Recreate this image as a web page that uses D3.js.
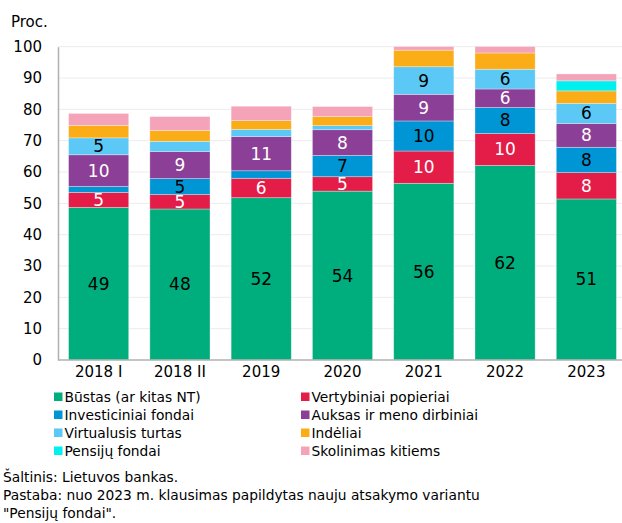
<!DOCTYPE html>
<html lang="lt">
<head>
  <meta charset="UTF-8">
  <title>Investavimo kryptys</title>
  <script src="https://d3js.org/d3.v7.min.js"></script>
  <style>
    html, body {
      margin: 0;
      padding: 0;
      background: #fff;
      font-family: "DejaVu Sans", Verdana, sans-serif;
    }
    svg { display: block; }
  </style>
</head>
<body>
  <svg width="622" height="523"></svg>

  <script>
    // duomenys
    const years = ["2018 I", "2018 II", "2019", "2020", "2021", "2022", "2023"];
    const busta = [48.7, 48.2, 51.8, 53.9, 56.4, 62.1, 51.4];
    const vertybiniai = [4.8, 4.6, 6.2, 4.6, 10.3, 10.2, 8.4];
    const investiciniai = [1.9, 5.1, 2.4, 6.8, 9.6, 8.3, 8.1];
    const auksas = [10.1, 8.6, 10.9, 8.2, 8.5, 5.9, 7.6];
    const virtualus = [5.4, 3.3, 2.3, 1.3, 8.8, 6.3, 6.4];
    const indeliai = [4.0, 3.5, 2.8, 2.9, 5.3, 5.2, 4.0];
    const pensiju = [0, 0, 0, 0, 0, 0, 3.2];
    const skolinimas = [3.8, 4.4, 4.6, 3.2, 2.5, 3.0, 2.2];
    const yTicks = [0, 10, 20, 30, 40, 50, 60, 70, 80, 90, 100];

    const series = [
      { name: "Būstas (ar kitas NT)", values: busta, color: "#00ae7d", label: "#000" },
      { name: "Vertybiniai popieriai", values: vertybiniai, color: "#e31d48", label: "#fff" },
      { name: "Investiciniai fondai", values: investiciniai, color: "#0096d6", label: "#000" },
      { name: "Auksas ir meno dirbiniai", values: auksas, color: "#8b3f96", label: "#fff" },
      { name: "Virtualusis turtas", values: virtualus, color: "#5bc8f5", label: "#000" },
      { name: "Indėliai", values: indeliai, color: "#fbad18", label: null },
      { name: "Pensijų fondai", values: pensiju, color: "#00f0f0", label: null },
      { name: "Skolinimas kitiems", values: skolinimas, color: "#f4a3b8", label: null }
    ];

    const svg = d3.select("svg");

    const x = d3.scaleBand().domain(years).range([58, 627]).paddingInner(0.26).paddingOuter(0.13);
    const y = d3.scaleLinear().domain([0, 100]).range([360, 46.7]);

    // tinklelis
    svg.append("g")
      .selectAll("line")
      .data(yTicks.filter(d => d > 0))
      .enter().append("line")
      .attr("x1", 58).attr("x2", 622)
      .attr("y1", d => y(d)).attr("y2", d => y(d))
      .attr("stroke", "#ececec")
      .attr("stroke-width", 1);

    const yAxis = svg.append("g")
      .attr("transform", "translate(58,0)")
      .call(d3.axisLeft(y).tickValues(yTicks).tickSize(0).tickPadding(16));
    yAxis.select(".domain").attr("stroke", "#b0b0b0").attr("stroke-width", 1.5);
    yAxis.selectAll("text").attr("font-size", 15).attr("font-family", "DejaVu Sans, Verdana, sans-serif").attr("fill", "#000");

    svg.append("defs").append("clipPath").attr("id", "plot-clip")
      .append("rect").attr("x", 58).attr("y", y(100)).attr("width", 570).attr("height", y(0) - y(100));

    const stackData = years.map((yr, i) => {
      const row = { year: yr };
      series.forEach(s => row[s.name] = s.values[i]);
      return row;
    });
    const stacked = d3.stack().keys(series.map(s => s.name))(stackData);

    const bars = svg.append("g").attr("clip-path", "url(#plot-clip)");
    stacked.forEach((layer, k) => {
      bars.append("g")
        .selectAll("rect")
        .data(layer.filter(d => d[1] - d[0] > 0))
        .enter().append("rect")
        .attr("x", d => x(d.data.year))
        .attr("width", x.bandwidth())
        .attr("y", d => y(d[1]))
        .attr("height", d => y(d[0]) - y(d[1]))
        .attr("fill", series[k].color)
        .attr("stroke", "#fff")
        .attr("stroke-opacity", 0.45)
        .attr("stroke-width", 0.7);
    });

    // reikšmių etiketės
    const labels = svg.append("g");
    stacked.forEach((layer, k) => {
      if (!series[k].label) return;
      labels.selectAll(null)
        .data(layer.filter(d => Math.round(d[1] - d[0]) >= 5))
        .enter().append("text")
        .attr("x", d => x(d.data.year) + x.bandwidth() / 2)
        .attr("y", d => y((d[0] + d[1]) / 2))
        .attr("text-anchor", "middle")
        .attr("dominant-baseline", "central")
        .attr("font-size", 17)
        .attr("fill", series[k].label)
        .text(d => Math.round(d[1] - d[0]));
    });

    // x ašis
    const xAxis = svg.append("g")
      .attr("transform", "translate(0,360)")
      .call(d3.axisBottom(x).tickSize(0).tickPadding(6));
    xAxis.select(".domain").remove();
    xAxis.selectAll("text").attr("font-size", 15).attr("font-family", "DejaVu Sans, Verdana, sans-serif").attr("fill", "#000");
    svg.append("line")
      .attr("x1", 58).attr("x2", 622).attr("y1", 360).attr("y2", 360)
      .attr("stroke", "#b0b0b0").attr("stroke-width", 1.5);

    svg.append("text")
      .attr("x", 11).attr("y", 27)
      .attr("font-size", 15)
      .text("Proc.");

    // legenda
    const legend = svg.append("g");
    series.forEach((s, i) => {
      const col = i % 2, row = Math.floor(i / 2);
      const gx = col === 0 ? 54 : 301;
      const gy = 397 + row * 18;
      legend.append("rect")
        .attr("x", gx).attr("y", gy - 4.5)
        .attr("width", 8.5).attr("height", 8.5)
        .attr("fill", s.color);
      legend.append("text")
        .attr("x", gx + 10.5).attr("y", gy)
        .attr("dominant-baseline", "central")
        .attr("font-size", 13.8)
        .text(s.name);
    });

    const notes = [
      "Šaltinis: Lietuvos bankas.",
      "Pastaba: nuo 2023 m. klausimas papildytas nauju atsakymo variantu",
      "\"Pensijų fondai\"."
    ];
    svg.append("g").selectAll("text")
      .data(notes)
      .enter().append("text")
      .attr("x", 3)
      .attr("y", (d, i) => 477 + i * 18)
      .attr("dominant-baseline", "central")
      .attr("font-size", 13.8)
      .text(d => d);
  </script>
</body>
</html>
